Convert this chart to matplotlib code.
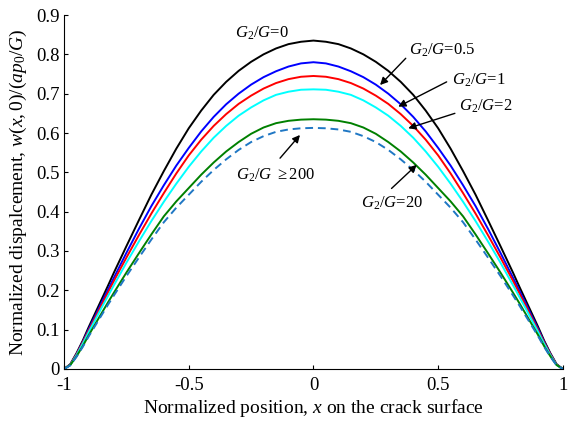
import matplotlib
matplotlib.use('Agg')

import numpy as np
import matplotlib.pyplot as plt

plt.rcParams['font.family'] = ['Liberation Serif', 'DejaVu Serif']
plt.rcParams['mathtext.fontset'] = 'custom'
plt.rcParams['mathtext.rm'] = 'Liberation Serif'
plt.rcParams['mathtext.it'] = 'Liberation Serif:italic'

# NOTE: values (left half, then right half)
xleft = [-1.0, -0.975, -0.95, -0.925, -0.9, -0.875, -0.85, -0.825, -0.8, -0.75, -0.7, -0.65,
         -0.6, -0.55, -0.5, -0.45, -0.4, -0.35, -0.3, -0.25, -0.2, -0.15, -0.1, -0.05, 0.0]
xright = [0.05, 0.1, 0.15, 0.2, 0.25, 0.3, 0.35, 0.4, 0.45, 0.5, 0.55, 0.6,
          0.65, 0.7, 0.75, 0.8, 0.825, 0.85, 0.875, 0.9, 0.925, 0.95, 0.975, 1.0]

w_g0 = [0.0, 0.012, 0.04, 0.072, 0.108, 0.142, 0.176, 0.21, 0.245, 0.312, 0.378, 0.443,
        0.503, 0.56, 0.612, 0.657, 0.697, 0.73, 0.758, 0.781, 0.8, 0.815, 0.826, 0.832, 0.835,
        0.832, 0.826, 0.815, 0.8, 0.781, 0.758, 0.73, 0.697, 0.657, 0.612, 0.56, 0.503,
        0.443, 0.378, 0.312, 0.245, 0.21, 0.176, 0.142, 0.108, 0.072, 0.04, 0.012, 0.0]
w_g05 = [0.0, 0.011, 0.038, 0.069, 0.103, 0.135, 0.168, 0.2, 0.232, 0.295, 0.356, 0.414,
         0.467, 0.517, 0.562, 0.604, 0.641, 0.673, 0.7, 0.723, 0.742, 0.757, 0.769, 0.777, 0.78,
         0.777, 0.769, 0.757, 0.742, 0.723, 0.7, 0.673, 0.641, 0.604, 0.562, 0.517, 0.467,
         0.414, 0.356, 0.295, 0.232, 0.2, 0.168, 0.135, 0.103, 0.069, 0.038, 0.011, 0.0]
w_g1 = [0.0, 0.011, 0.037, 0.067, 0.099, 0.13, 0.162, 0.193, 0.224, 0.283, 0.34, 0.395,
        0.447, 0.497, 0.543, 0.583, 0.618, 0.648, 0.674, 0.695, 0.713, 0.727, 0.737, 0.743, 0.745,
        0.743, 0.737, 0.727, 0.713, 0.695, 0.674, 0.648, 0.618, 0.583, 0.543, 0.497, 0.447,
        0.395, 0.34, 0.283, 0.224, 0.193, 0.162, 0.13, 0.099, 0.067, 0.037, 0.011, 0.0]
w_g2 = [0.0, 0.01, 0.035, 0.064, 0.095, 0.125, 0.155, 0.184, 0.213, 0.27, 0.324, 0.376,
        0.425, 0.471, 0.514, 0.553, 0.588, 0.618, 0.644, 0.665, 0.683, 0.697, 0.705, 0.71, 0.711,
        0.71, 0.705, 0.697, 0.683, 0.665, 0.644, 0.618, 0.588, 0.553, 0.514, 0.471, 0.425,
        0.376, 0.324, 0.27, 0.213, 0.184, 0.155, 0.125, 0.095, 0.064, 0.035, 0.01, 0.0]
w_g20 = [0.0, 0.01, 0.032, 0.058, 0.087, 0.114, 0.141, 0.168, 0.194, 0.245, 0.294, 0.342,
         0.388, 0.426, 0.46, 0.494, 0.525, 0.553, 0.577, 0.598, 0.614, 0.625, 0.631, 0.634, 0.635,
         0.634, 0.631, 0.625, 0.614, 0.598, 0.577, 0.553, 0.525, 0.494, 0.46, 0.426, 0.388,
         0.342, 0.294, 0.245, 0.194, 0.168, 0.141, 0.114, 0.087, 0.058, 0.032, 0.01, 0.0]
w_g200 = [0.0, 0.009, 0.031, 0.056, 0.084, 0.11, 0.136, 0.162, 0.187, 0.236, 0.283, 0.329,
          0.373, 0.41, 0.443, 0.476, 0.506, 0.533, 0.557, 0.577, 0.592, 0.603, 0.609, 0.612, 0.613,
          0.612, 0.609, 0.603, 0.592, 0.577, 0.557, 0.533, 0.506, 0.476, 0.443, 0.41, 0.373,
          0.329, 0.283, 0.236, 0.187, 0.162, 0.136, 0.11, 0.084, 0.056, 0.031, 0.009, 0.0]

xpos = xleft + xright

xticks = [-1, -0.5, 0, 0.5, 1]
xticklabels = ['-1', '-0.5', '0', '0.5', '1']
yticks = [0, 0.1, 0.2, 0.3, 0.4, 0.5, 0.6, 0.7, 0.8, 0.9]
yticklabels = ['0', '0.1', '0.2', '0.3', '0.4', '0.5', '0.6', '0.7', '0.8', '0.9']

fig = plt.figure(figsize=(5.68, 4.23), dpi=100)
ax = fig.add_axes([0.1127, 0.1277, 0.8783, 0.8368])

ax.plot(xpos, w_g0, color='black', lw=1.4)
ax.plot(xpos, w_g05, color='blue', lw=1.4)
ax.plot(xpos, w_g1, color='red', lw=1.4)
ax.plot(xpos, w_g2, color='cyan', lw=1.4)
ax.plot(xpos, w_g20, color='green', lw=1.4)
ax.plot(xpos, w_g200, color='#1f77c4', lw=1.4, ls='--', dashes=(4, 2.5))

ax.set_xlim(-1, 1)
ax.set_ylim(0, 0.9)
ax.set_xticks(xticks)
ax.set_xticklabels(xticklabels)
ax.set_yticks(yticks)
ax.set_yticklabels(yticklabels)
ax.tick_params(direction='in', length=3, labelsize=13.5)
ax.tick_params(axis='x', pad=6)
ax.tick_params(axis='y', pad=3)
ax.spines['top'].set_visible(False)
ax.spines['right'].set_visible(False)

ax.set_xlabel(r'Normalized position, $x$ on the crack surface', fontsize=14, labelpad=2)
ax.set_ylabel(r'Normalized dispalcement, $w(x,0)/(ap_0/G)$', fontsize=14, labelpad=5)

fs = 12
ax.text(-0.206, 0.854, r'$G_2/G$=0', fontsize=fs, ha='center', va='center')
ax.text(0.515, 0.811, r'$G_2/G$=0.5', fontsize=fs, ha='center', va='center')
ax.text(0.663, 0.735, r'$G_2/G$=1', fontsize=fs, ha='center', va='center')
ax.text(0.691, 0.667, r'$G_2/G$=2', fontsize=fs, ha='center', va='center')
ax.text(-0.15, 0.493, r'$G_2/G$ $\geq$200', fontsize=fs, ha='center', va='center')
ax.text(0.317, 0.422, r'$G_2/G$=20', fontsize=fs, ha='center', va='center')

arrowtails = [(0.37, 0.79), (0.534, 0.73), (0.567, 0.65), (-0.134, 0.536), (0.313, 0.459)]
arrowtips = [(0.267, 0.722), (0.34, 0.667), (0.38, 0.612), (-0.054, 0.595), (0.414, 0.519)]
for tail, tip in zip(arrowtails, arrowtips):
    ax.annotate('', xy=tip, xytext=tail,
                arrowprops=dict(arrowstyle='-|>', color='black', lw=1.0,
                                mutation_scale=11, shrinkA=0, shrinkB=0))

plt.savefig('out.png', dpi=100)
plt.close()
